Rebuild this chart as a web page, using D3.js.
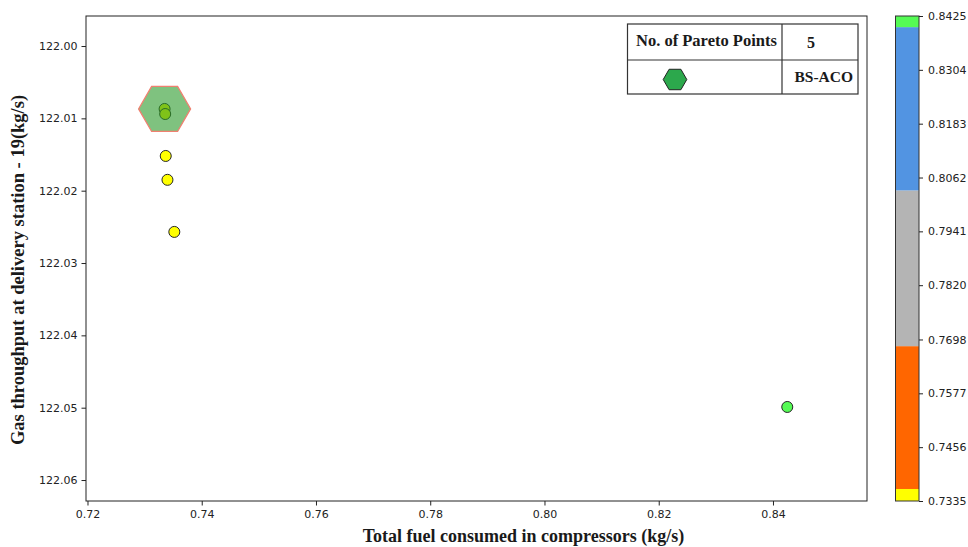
<!DOCTYPE html>
<html>
<head>
<meta charset="utf-8">
<script src="https://cdn.jsdelivr.net/npm/d3@7/dist/d3.min.js"></script>
<style>
  body { margin: 0; background: #fff; }
  svg text { fill: #1a1a1a; }
</style>
</head>
<body>
<svg id="chart" width="968" height="547"></svg>
<script>
// Pareto solutions: fuel burned by compressors vs. delivered gas
const fuel = [0.7335, 0.7336, 0.7337, 0.7340, 0.7352, 0.8425];
const throughput = [122.0087, 122.0094, 122.0152, 122.0185, 122.0257, 122.0499];
const highlightIndex = 0;          // solution marked with the hexagon

const xTicks = [0.72, 0.74, 0.76, 0.78, 0.80, 0.82, 0.84];
const yTicks = [122.00, 122.01, 122.02, 122.03, 122.04, 122.05, 122.06];

// Discrete colour bands of the colour bar (fuel value boundaries)
const bandEdges = [0.7335, 0.7362, 0.7683, 0.8033, 0.8400, 0.8425];
const bandColors = ["#ffff00", "#ff6600", "#b4b4b4", "#5294e2", "#55fb55"];
const cbarTickLabels = ["0.7335", "0.7456", "0.7577", "0.7698", "0.7820",
                        "0.7941", "0.8062", "0.8183", "0.8304", "0.8425"];

const tableRows = [["No. of Pareto Points", "5"], ["", "BS-ACO"]];

const svg = d3.select("#chart");
const plot = { left: 86, right: 867, top: 16, bottom: 501 };
const cbar = { left: 895.5, right: 919, top: 16, bottom: 501 };

const x = d3.scaleLinear().domain([0.71974, 0.85646]).range([plot.left, plot.right]);
const y = d3.scaleLinear().domain([121.99585, 122.0629]).range([plot.top, plot.bottom]);
const color = d3.scaleThreshold().domain(bandEdges.slice(1, -1)).range(bandColors);

const tickFont = "DejaVu Sans, sans-serif";
const serif = "'Liberation Serif', 'Times New Roman', serif";

// Axes
const xAxis = svg.append("g")
  .attr("transform", `translate(0,${plot.bottom})`)
  .call(d3.axisBottom(x).tickValues(xTicks).tickFormat(d3.format(".2f"))
        .tickSizeOuter(0).tickSize(4.5).tickPadding(5));
const yAxis = svg.append("g")
  .attr("transform", `translate(${plot.left},0)`)
  .call(d3.axisLeft(y).tickValues(yTicks).tickFormat(d3.format(".2f"))
        .tickSizeOuter(0).tickSize(4.5).tickPadding(4));
[xAxis, yAxis].forEach(g => {
  g.select(".domain").remove();
  g.selectAll(".tick line").attr("stroke", "#222");
  g.selectAll(".tick text").attr("font-family", tickFont).attr("font-size", 11)
    .style("fill", "#222");
});

// Points
svg.append("g").selectAll("circle")
  .data(fuel.map((f, i) => ({ f, t: throughput[i] })))
  .join("circle")
  .attr("cx", d => x(d.f))
  .attr("cy", d => y(d.t))
  .attr("r", 5.5)
  .attr("fill", d => color(d.f))
  .attr("stroke", "#262626")
  .attr("stroke-width", 1);

// Hexagon marker
function hexPoints(r) {
  return d3.range(6).map(k => [r * Math.cos(k * Math.PI / 3), r * Math.sin(k * Math.PI / 3)]);
}
const hexLine = d3.line().curve(d3.curveLinearClosed);
svg.append("path")
  .attr("d", hexLine(hexPoints(26)))
  .attr("transform", `translate(${x(fuel[highlightIndex])},${y(throughput[highlightIndex])})`)
  .attr("fill", "#2a9a2a")
  .attr("fill-opacity", 0.6)
  .attr("stroke", "#f08070")
  .attr("stroke-width", 1.3);

// Plot frame
svg.append("rect")
  .attr("x", plot.left).attr("y", plot.top)
  .attr("width", plot.right - plot.left).attr("height", plot.bottom - plot.top)
  .attr("fill", "none").attr("stroke", "#222").attr("stroke-width", 1);

// Axis titles
svg.append("text")
  .attr("x", 523.5).attr("y", 542)
  .attr("text-anchor", "middle")
  .attr("font-family", serif).attr("font-weight", "bold").attr("font-size", 18)
  .text("Total fuel consumed in compressors (kg/s)");
svg.append("text")
  .attr("transform", "translate(24,270) rotate(-90)")
  .attr("text-anchor", "middle")
  .attr("font-family", serif).attr("font-weight", "bold").attr("font-size", 18.5)
  .text("Gas throughput at delivery station - 19(kg/s)");

// Summary table
const tbl = { left: 627.5, right: 858, top: 24, mid: 60, bottom: 94, split: 782 };
const tg = svg.append("g");
tg.append("rect").attr("x", tbl.left).attr("y", tbl.top)
  .attr("width", tbl.right - tbl.left).attr("height", tbl.bottom - tbl.top)
  .attr("fill", "#fff").attr("stroke", "#333").attr("stroke-width", 1.2);
tg.append("line").attr("x1", tbl.left).attr("x2", tbl.right)
  .attr("y1", tbl.mid).attr("y2", tbl.mid).attr("stroke", "#333").attr("stroke-width", 1.2);
tg.append("line").attr("x1", tbl.split).attr("x2", tbl.split)
  .attr("y1", tbl.top).attr("y2", tbl.bottom).attr("stroke", "#333").attr("stroke-width", 1.2);
tg.append("text").attr("x", 636).attr("y", 46)
  .attr("font-family", serif).attr("font-weight", "bold").attr("font-size", 16.5)
  .text(tableRows[0][0]);
tg.append("text").attr("x", 811).attr("y", 48).attr("text-anchor", "middle")
  .attr("font-family", serif).attr("font-weight", "bold").attr("font-size", 16)
  .text(tableRows[0][1]);
tg.append("text").attr("x", 853).attr("y", 82).attr("text-anchor", "end")
  .attr("font-family", serif).attr("font-weight", "bold").attr("font-size", 15.5)
  .text(tableRows[1][1]);
tg.append("path")
  .attr("d", hexLine(hexPoints(11.8)))
  .attr("transform", "translate(675,79.5)")
  .attr("fill", "#2ca84c").attr("stroke", "#222").attr("stroke-width", 1);

// Colour bar
const cy = d3.scaleLinear().domain([bandEdges[0], bandEdges[bandEdges.length - 1]])
  .range([cbar.bottom, cbar.top]);
svg.append("g").selectAll("rect")
  .data(bandColors.map((c, i) => ({ c, lo: bandEdges[i], hi: bandEdges[i + 1] })))
  .join("rect")
  .attr("x", cbar.left).attr("width", cbar.right - cbar.left)
  .attr("y", d => cy(d.hi)).attr("height", d => cy(d.lo) - cy(d.hi))
  .attr("fill", d => d.c);
svg.append("rect")
  .attr("x", cbar.left).attr("y", cbar.top)
  .attr("width", cbar.right - cbar.left).attr("height", cbar.bottom - cbar.top)
  .attr("fill", "none").attr("stroke", "#333").attr("stroke-width", 1);
const cAxis = svg.append("g")
  .attr("transform", `translate(${cbar.right},0)`)
  .call(d3.axisRight(cy).tickValues(cbarTickLabels.map(Number))
        .tickFormat((d, i) => cbarTickLabels[i]).tickSize(4).tickSizeOuter(0).tickPadding(5));
cAxis.select(".domain").remove();
cAxis.selectAll(".tick line").attr("stroke", "#222");
cAxis.selectAll(".tick text").attr("font-family", tickFont).attr("font-size", 11)
  .style("fill", "#222");
</script>
</body>
</html>
